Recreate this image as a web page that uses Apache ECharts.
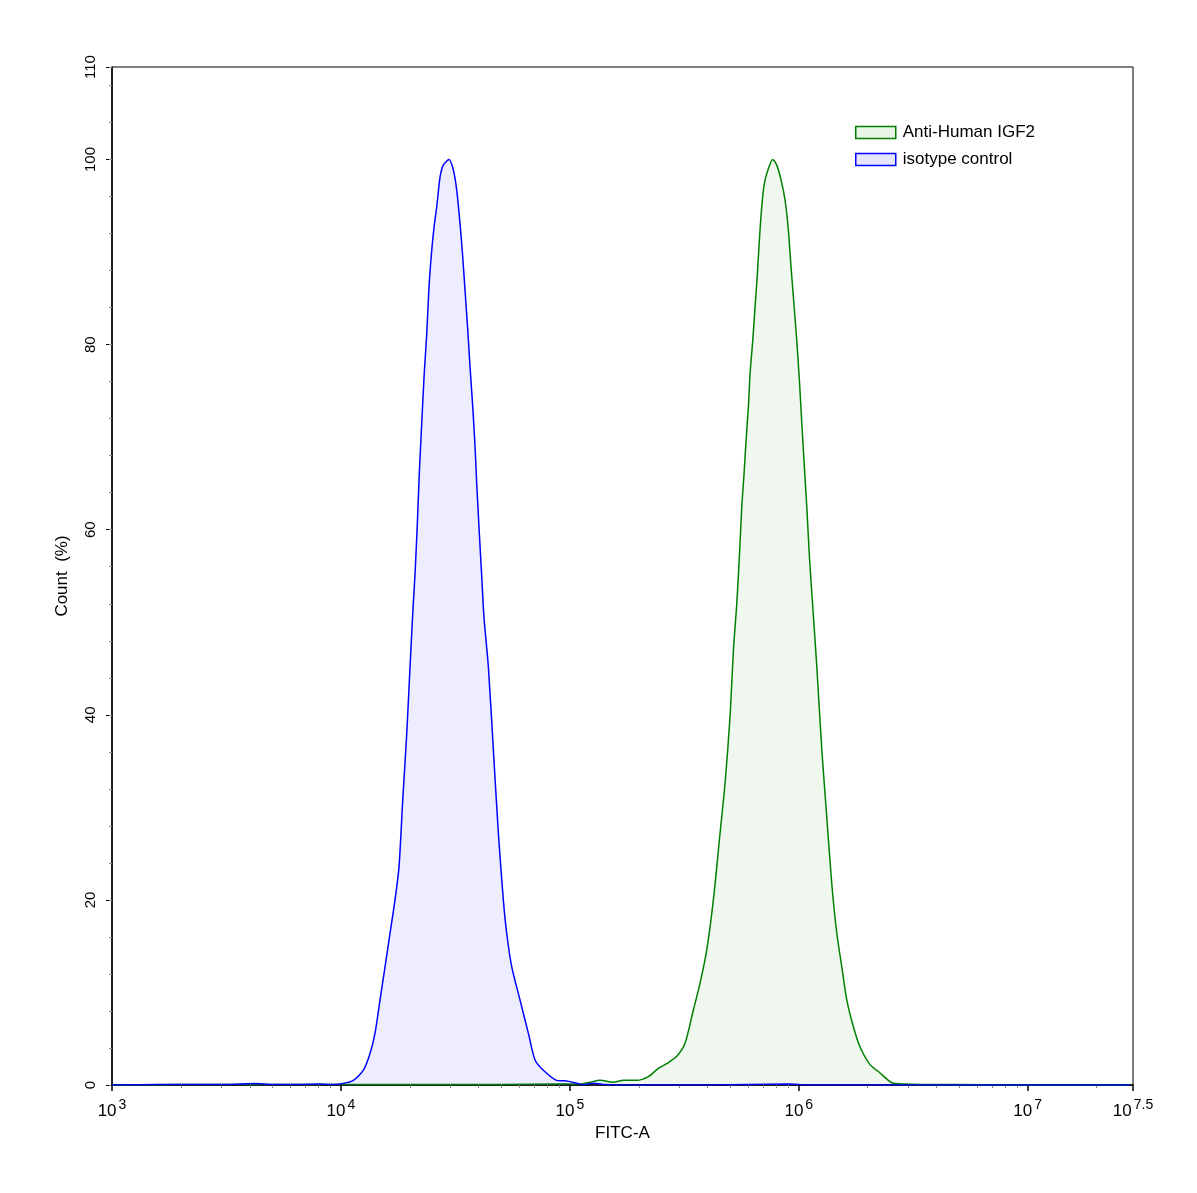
<!DOCTYPE html>
<html><head><meta charset="utf-8">
<script src="https://cdn.jsdelivr.net/npm/echarts@6/dist/echarts.min.js"></script>
<style>html,body{margin:0;padding:0;background:#fff}#c{width:1197px;height:1193px}</style>
</head><body><div id="c"></div>
<script>
const seriesNames = ['Anti-Human IGF2', 'isotype control'];

// Anti-Human IGF2 (green) histogram: FITC-A intensity vs Count (%)
const igf2X = [1000, 2000, 4000, 7000, 20000, 50000, 87650, 100000, 110800, 122500,
  135500, 154900, 171300, 196000, 220300, 243600, 265000, 293100, 318500, 346400,
  370500, 396300, 423600, 453000, 476400, 501000, 518100, 536000, 550300, 563700,
  576900, 588700, 602500, 612900, 629700, 644400, 659500, 672800, 689100, 707200,
  736200, 769900, 801300, 836700, 871300, 900500, 925200, 946900, 979700, 1006000,
  1031000, 1058000, 1084000, 1113000, 1151000, 1199000, 1261000, 1325000, 1393000, 1466000,
  1541000, 1621000, 1732000, 1853000, 2048000, 2265000, 2547000, 2965000, 3747000, 5000000,
  8000000, 28000000];
const igf2Y = [0, 0.05, 0.05, 0.05, 0.05, 0.05, 0.1, 0.1, 0.1, 0.3,
  0.5, 0.3, 0.5, 0.5, 0.9, 1.8, 2.3, 3.1, 4.5, 8.1,
  11.0, 14.6, 20.0, 27.2, 32.6, 39.8, 47.0, 52.0, 57.1, 62.5,
  66.1, 69.7, 73.3, 76.9, 80.5, 84.1, 87.7, 91.3, 94.9, 97.4,
  99.0, 100, 99.4, 97.8, 95.6, 92.4, 88.4, 85.2, 80.5, 76.2,
  71.5, 66.8, 62.5, 57.1, 51.7, 45.2, 36.2, 29.0, 21.8, 16.4,
  12.8, 9.2, 6.3, 4.1, 2.2, 1.3, 0.25, 0.1, 0.05, 0.05,
  0, 0];

// isotype control (blue) histogram
const isoX = [1000, 1600, 2500, 3200, 4200, 5000, 6500, 8000, 9000, 9910,
  11330, 12530, 13400, 14090, 14820, 15590, 16390, 17230, 17940, 18620,
  19390, 20040, 20650, 21080, 21570, 22000, 22540, 23120, 23710, 24260,
  24930, 25520, 26210, 27100, 28000, 29650, 30970, 32050, 33130, 34040,
  34840, 35810, 36640, 37650, 38540, 39190, 40240, 41210, 42170, 44060,
  46340, 48730, 51220, 52990, 55720, 60560, 65870, 70470, 76610, 87650,
  95270, 107200, 114200, 126300, 142500, 160000, 400000, 900000, 1100000, 3000000,
  28000000];
const isoY = [0, 0.05, 0.05, 0.05, 0.15, 0.05, 0.05, 0.1, 0.05, 0.1,
  0.5, 1.6, 3.4, 5.6, 9.2, 12.8, 16.4, 20.0, 23.6, 30.8,
  38.0, 45.2, 51.5, 55.3, 60.7, 66.1, 71.5, 76.9, 81.2, 86.3,
  90.2, 92.7, 94.9, 98.1, 99.4, 100, 98.9, 96.7, 93.1, 89.5,
  85.9, 81.6, 77.6, 73.3, 69.0, 65.0, 59.6, 55.0, 50.5, 45.2,
  36.2, 27.2, 20.0, 16.4, 12.8, 9.2, 5.6, 2.7, 1.6, 0.5,
  0.45, 0.2, 0.0, 0.2, 0.05, 0, 0, 0.1, 0, 0,
  0];

// axis settings
const xMin = 1000;
const xMaxExp = 7.46;
const xMajorExps = [3, 4, 5, 6, 7, xMaxExp];
const xMajorLabels = ['3', '4', '5', '6', '7', '7.5'];
const yMax = 110, yMajor = 20, yMinor = 4;

const xMax = Math.pow(10, xMaxExp);
// keep the end tick a hair inside the extent so it is not filtered out by rounding
const xMajorTicks = xMajorExps.map(e => Math.pow(10, e) * (e === xMaxExp ? 0.99999 : 1.000001));
const xMinorTicks = [];
for (let d = 3; d <= 7; d++) for (let k = 2; k <= 9; k++) {
  const v = k * Math.pow(10, d);
  if (v < xMax) xMinorTicks.push(v);
}

const pairs = (xs, ys) => xs.map((x, i) => [x, ys[i]]);
const FONT = "'Liberation Sans', Arial, sans-serif";

const chart = echarts.init(document.getElementById('c'), null, {renderer: 'canvas'});
chart.setOption({
  animation: false,
  backgroundColor: '#fff',
  textStyle: {fontFamily: FONT, color: '#000'},
  grid: {left: 112, top: 67, right: 64, bottom: 108, show: true, borderColor: '#000', borderWidth: 1, containLabel: false},
  legend: {
    orient: 'vertical', left: 850, top: 119, itemWidth: 40, itemHeight: 12, itemGap: 10,
    icon: 'rect',
    textStyle: {fontSize: 17, color: '#000', fontFamily: FONT, padding: [0, 0, 0, 2]},
    data: [
      {name: seriesNames[0], itemStyle: {color: 'rgba(0,128,0,0.09)', borderColor: '#008000', borderWidth: 1.5}},
      {name: seriesNames[1], itemStyle: {color: 'rgba(0,0,255,0.1)', borderColor: '#0000ff', borderWidth: 1.5}}
    ]
  },
  xAxis: [
    {
      type: 'log', logBase: 10, min: xMin, max: xMax, position: 'bottom',
      name: 'FITC-A', nameLocation: 'middle', nameGap: 40,
      nameTextStyle: {fontSize: 17, color: '#000', fontFamily: FONT},
      axisLine: {show: true, onZero: false, lineStyle: {color: '#000', width: 1.5}},
      axisTick: {show: true, length: 6, customValues: xMajorTicks, lineStyle: {color: '#000', width: 1.5}},
      axisLabel: {
        show: true, margin: 13, customValues: xMajorTicks, color: '#000',
        showMinLabel: true, showMaxLabel: true, hideOverlap: false,
        formatter: function (v) {
          const e = Math.log10(v);
          let best = 0, bd = 1e9;
          xMajorExps.forEach((x, i) => { const d = Math.abs(x - e); if (d < bd) { bd = d; best = i; } });
          return '{b|10}{s|' + xMajorLabels[best] + '}';
        },
        rich: {
          b: {fontSize: 17, fontFamily: FONT, color: '#000', lineHeight: 22, verticalAlign: 'bottom'},
          s: {fontSize: 14, fontFamily: FONT, color: '#000', lineHeight: 22, verticalAlign: 'top', padding: [0, 0, 0, 2]}
        }
      },
      splitLine: {show: false}, minorTick: {show: false}
    },
    {
      type: 'log', logBase: 10, min: xMin, max: xMax, position: 'bottom',
      axisLine: {show: false, onZero: false},
      axisTick: {show: true, length: 3, customValues: xMinorTicks, lineStyle: {color: '#888', width: 1}},
      axisLabel: {show: false},
      splitLine: {show: false}
    }
  ],
  yAxis: [
    {
      type: 'value', min: 0, max: yMax, interval: yMajor, position: 'left',
      name: 'Count  (%)', nameLocation: 'middle', nameGap: 41,
      nameTextStyle: {fontSize: 17, color: '#000', fontFamily: FONT},
      axisLine: {show: true, onZero: false, lineStyle: {color: '#000', width: 1.5}},
      axisTick: {show: true, length: 6, lineStyle: {color: '#000', width: 1}},
      axisLabel: {show: true, rotate: 90, margin: 14, fontSize: 15, color: '#000', fontFamily: FONT},
      splitLine: {show: false}
    },
    {
      type: 'value', min: 0, max: yMax, interval: yMinor, position: 'left',
      axisLine: {show: false, onZero: false},
      axisTick: {show: true, length: 3, lineStyle: {color: '#888', width: 1}},
      axisLabel: {show: false},
      splitLine: {show: false}
    }
  ],
  series: [
    {
      name: seriesNames[0], type: 'line', xAxisIndex: 0, yAxisIndex: 0,
      data: pairs(igf2X, igf2Y), showSymbol: false, symbol: 'none', smooth: 0.25,
      itemStyle: {color: '#008000'},
      lineStyle: {color: '#008000', width: 1.5},
      areaStyle: {color: 'rgba(0,128,0,0.09)', origin: 'start'},
      z: 3
    },
    {
      name: seriesNames[1], type: 'line', xAxisIndex: 0, yAxisIndex: 0,
      data: pairs(isoX, isoY), showSymbol: false, symbol: 'none', smooth: 0.25,
      itemStyle: {color: '#0000ff'},
      lineStyle: {color: '#0000ff', width: 1.5},
      areaStyle: {color: 'rgba(0,0,255,0.1)', origin: 'start'},
      z: 4
    }
  ]
});
</script>
</body></html>
